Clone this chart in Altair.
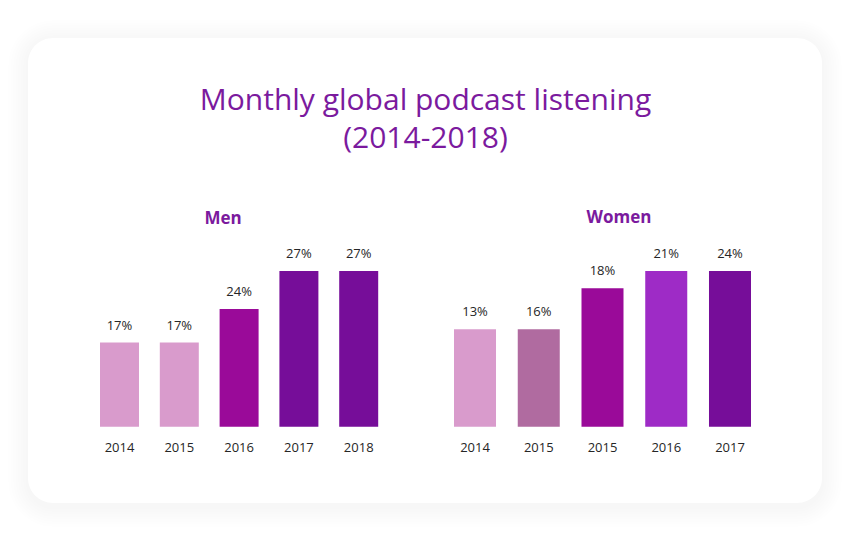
import altair as alt
import pandas as pd

# ---- data ----
TITLE_LINES = ["Monthly global podcast listening", "(2014-2018)"]
men_title = "Men"
women_title = "Women"

men_years = ["2014", "2015", "2016", "2017", "2018"]
men_labels = ["17%", "17%", "24%", "27%", "27%"]
men_bar_height = [14.6, 14.6, 20.4, 27.0, 27.0]

women_years = ["2014", "2015", "2015", "2016", "2017"]
women_labels = ["13%", "16%", "18%", "21%", "24%"]
women_bar_height = [16.9, 16.9, 24.0, 27.0, 27.0]

# ---- styles ----
MEN_COLORS = ["#d99bcc", "#d99bcc", "#9a0a99", "#760d99", "#760d99"]
WOMEN_COLORS = ["#d99bcc", "#b06ba0", "#9a0a99", "#9e2bc6", "#760d99"]
PURPLE = "#7b1a9e"
FONT = "Open Sans"
TEXT_COLOR = "#262626"

men_df = pd.DataFrame({
    "slot": [f"m{i}" for i in range(len(men_years))],
    "year": men_years, "label": men_labels, "h": men_bar_height,
})
women_df = pd.DataFrame({
    "slot": [f"w{i}" for i in range(len(women_years))],
    "year": women_years, "label": women_labels, "h": women_bar_height,
})
deco = pd.DataFrame({"k": [0]})

Y = alt.Y("h:Q", axis=None,
          scale=alt.Scale(domain=[0, 27], range=[418.7, 263], nice=False, zero=True))


def panel(df, colors, x_range, pad_inner):
    xenc = alt.X("slot:N", axis=None,
                 scale=alt.Scale(type="band", domain=list(df["slot"]), range=x_range,
                                 paddingInner=pad_inner, paddingOuter=0))
    base = alt.Chart(df).encode(x=xenc)
    bars = base.mark_bar().encode(
        y=Y,
        color=alt.Color("slot:N", legend=None,
                        scale=alt.Scale(domain=list(df["slot"]), range=colors)),
    )
    vals = base.mark_text(dy=-13, baseline="alphabetic", fontSize=13,
                          font=FONT, color=TEXT_COLOR).encode(y=Y, text="label:N")
    years = base.mark_text(baseline="alphabetic", fontSize=13, font=FONT,
                           color=TEXT_COLOR).encode(y=alt.value(443.7), text="year:N")
    return [bars, vals, years]


layers = []
# soft shadow of the card
for i in range(1, 9):
    g = i * 2.5
    layers.append(
        alt.Chart(deco).mark_rect(cornerRadius=25 + g, color="#000000", opacity=0.0045)
        .encode(x=alt.value(20 - g), x2=alt.value(814 + g),
                y=alt.value(32 - g), y2=alt.value(499 + g))
    )
# card
layers.append(
    alt.Chart(deco).mark_rect(cornerRadius=25, color="#ffffff")
    .encode(x=alt.value(20), x2=alt.value(814), y=alt.value(30), y2=alt.value(495))
)
# titles
for line, base_y in zip(TITLE_LINES, [102, 140]):
    layers.append(
        alt.Chart(deco).mark_text(fontSize=30, font=FONT, color=PURPLE,
                                  align="center", baseline="alphabetic")
        .encode(x=alt.value(417.5), y=alt.value(base_y), text=alt.value(line))
    )
layers.append(
    alt.Chart(deco).mark_text(fontSize=17, fontWeight="bold", font=FONT, color=PURPLE,
                              align="center", baseline="alphabetic")
    .encode(x=alt.value(215), y=alt.value(216), text=alt.value(men_title))
)
layers.append(
    alt.Chart(deco).mark_text(fontSize=17, fontWeight="bold", font=FONT, color=PURPLE,
                              align="center", baseline="alphabetic")
    .encode(x=alt.value(611), y=alt.value(215), text=alt.value(women_title))
)

layers += panel(men_df, MEN_COLORS, [92, 370.2], 0.348)
layers += panel(women_df, WOMEN_COLORS, [446, 743], 0.341)

chart = (
    alt.layer(*layers)
    .resolve_scale(x="independent", color="independent")
    .properties(width=834, height=525, padding=0, autosize="none", background="#ffffff")
    .configure_view(stroke=None)
)

chart.save("out.html", embed_options={"renderer": "svg", "actions": False})
